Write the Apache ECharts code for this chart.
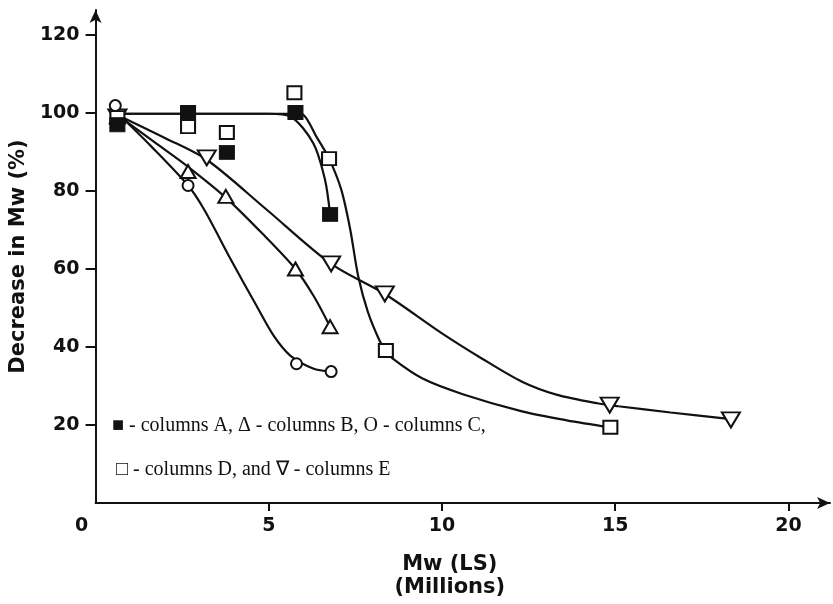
<!DOCTYPE html>
<html>
<head>
<meta charset="utf-8">
<script src="https://cdn.jsdelivr.net/npm/echarts@6/dist/echarts.min.js"></script>
<style>
  html, body { margin: 0; padding: 0; background: #fff; }
  #chart { width: 833px; height: 604px; }
</style>
</head>
<body>
<div id="chart"></div>
<script>
// ---- tick values ----
const xTickLabels = [0, 5, 10, 15, 20];
const xTickMarks = [5, 10, 15, 20];
const yTickLabels = [20, 40, 60, 80, 100, 120];

// ---- measured points [Mw (LS) in millions, decrease in Mw %] ----
const colA = [[0.63, 97.0], [2.67, 100.1], [3.79, 89.9], [5.77, 100.1], [6.77, 74.0]];
const colB = [[0.63, 99.0], [2.67, 85.0], [3.76, 78.6], [5.77, 60.0], [6.77, 45.2]];
const colC = [[0.57, 101.9], [2.67, 81.4], [5.80, 35.7], [6.80, 33.7]];
const colD = [[0.63, 98.8], [2.67, 96.5], [3.79, 95.0], [5.74, 105.2], [6.74, 88.3], [8.38, 39.1], [14.86, 19.4]];
const colE = [[0.63, 99.0], [3.21, 88.5], [6.80, 61.3], [8.35, 53.6], [14.84, 25.1], [18.34, 21.3]];

// ---- fitted curves ----
const curveA = [[0.63, 99.8], [5.0, 99.8], [5.62, 99.1], [6.28, 92.3], [6.62, 83.0], [6.77, 74.0]];
const curveB = [[0.63, 99.5], [1.7, 92.5], [2.67, 86.2], [3.76, 78.3], [4.8, 69.2], [5.77, 60.0], [6.3, 53.0], [6.77, 45.2]];
const curveC = [[0.57, 100.5], [1.6, 91.5], [2.67, 81.4], [3.13, 75.3], [3.90, 62.5], [4.65, 50.5], [5.14, 42.9], [5.62, 37.8], [6.28, 34.5], [6.80, 33.7]];
const curveD = [[0.63, 99.8], [5.0, 99.8], [5.77, 99.8], [6.0, 99.5], [6.37, 94.0], [6.74, 88.3], [7.09, 80.4], [7.35, 70.2], [7.58, 58.2], [7.86, 49.0], [8.21, 41.4], [8.38, 39.1], [8.58, 37.0], [9.44, 31.9], [10.6, 27.9], [12.31, 23.5], [13.6, 21.2], [14.86, 19.4]];
const curveE = [[0.63, 99.5], [2.0, 93.6], [3.21, 88.0], [4.9, 75.5], [6.80, 61.3], [8.35, 53.6], [10.0, 43.5], [11.16, 37.0], [12.31, 31.1], [13.3, 27.8], [14.52, 25.5], [15.09, 24.8], [16.6, 23.2], [18.34, 21.5]];

// ---- texts ----
const yTitle = 'Decrease in Mw (%)';
const xTitle = 'Mw (LS)\n(Millions)';
const legendLine1 = '\u25A0 - columns A, \u0394 - columns B, O - columns C,';
const legendLine2 = '\u25A1 - columns D, and \u2207 - columns E';

const chart = echarts.init(document.getElementById('chart'), null, { renderer: 'canvas' });
const BLACK = '#111';
const tickFont = { fontFamily: 'DejaVu Sans', fontWeight: 'bold', fontSize: 19, color: BLACK };

function curve(data) {
  return {
    type: 'line', data: data, symbol: 'none', showSymbol: false, silent: true,
    smooth: 0.3,
    lineStyle: { color: BLACK, width: 2.2, opacity: 1 }, z: 2
  };
}
function marks(data, symbol, size, filled, rotate) {
  return {
    type: 'scatter', data: data, symbol: symbol, symbolSize: size, symbolRotate: rotate || 0,
    itemStyle: filled ? { color: BLACK, borderColor: BLACK, borderWidth: 1, opacity: 1 }
                      : { color: '#fff', borderColor: BLACK, borderWidth: 2, opacity: 1 },
    z: 3, silent: true
  };
}

chart.setOption({
  animation: false,
  backgroundColor: '#fff',
  grid: { left: 91, right: 3, top: 10, bottom: 99, containLabel: false },
  xAxis: {
    type: 'value', min: 0, max: 21.2,
    splitLine: { show: false },
    axisLine: { show: true, lineStyle: { color: BLACK, width: 2 }, symbol: ['none', 'arrow'], symbolSize: [9, 13] },
    axisTick: { show: true, length: 8, lineStyle: { color: BLACK, width: 2 }, customValues: xTickMarks },
    axisLabel: Object.assign({}, tickFont, {
      margin: 14, customValues: xTickLabels,
      formatter: function (v) { return v === 0 ? '{z|0}' : String(v); },
      rich: { z: Object.assign({}, tickFont, { padding: [0, 28, 0, 0] }) }
    }),
    name: xTitle, nameLocation: 'middle', nameGap: 50,
    nameTextStyle: { fontFamily: 'DejaVu Sans', fontWeight: 'bold', fontSize: 21, color: BLACK, lineHeight: 23, padding: [0, 26, 0, 0] }
  },
  yAxis: {
    type: 'value', min: 0, max: 126.4,
    splitLine: { show: false },
    axisLine: { show: true, lineStyle: { color: BLACK, width: 2 }, symbol: ['none', 'arrow'], symbolSize: [9, 13] },
    axisTick: { show: true, length: 10, lineStyle: { color: BLACK, width: 2 }, customValues: yTickLabels },
    axisLabel: Object.assign({}, tickFont, { margin: 16, customValues: yTickLabels }),
    name: yTitle, nameLocation: 'middle', nameGap: 56,
    nameTextStyle: { fontFamily: 'DejaVu Sans', fontWeight: 'bold', fontSize: 21, color: BLACK }
  },
  graphic: [
    { type: 'text', left: 112, top: 416, style: { text: legendLine1, fontFamily: 'Liberation Serif, serif', fontSize: 20, fill: BLACK } },
    { type: 'text', left: 116, top: 460, style: { text: legendLine2, fontFamily: 'Liberation Serif, serif', fontSize: 20, fill: BLACK } }
  ],
  series: [
    curve(curveA), curve(curveB), curve(curveC), curve(curveD), curve(curveE),
    marks(colE, 'triangle', [18, 15], false, 180),
    marks(colB, 'triangle', [15, 13], false),
    marks(colD, 'rect', [14, 13], false),
    marks(colA, 'rect', [15, 14], true),
    marks(colC, 'circle', 11, false)
  ]
});
</script>
</body>
</html>
